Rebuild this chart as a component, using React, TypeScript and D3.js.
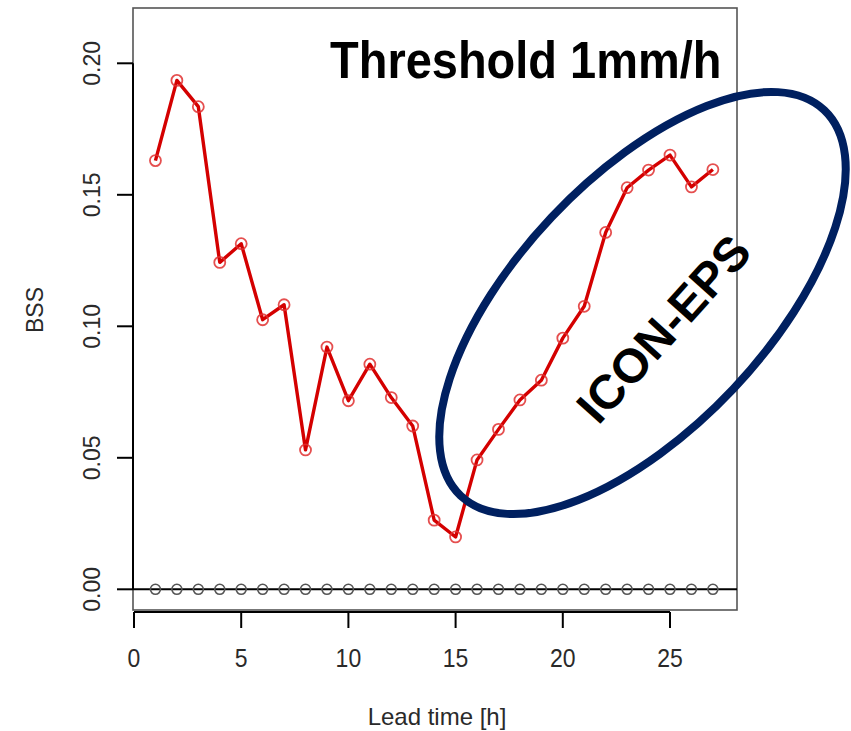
import React from "react";
import * as d3 from "d3";

const leadTimes = [1,2,3,4,5,6,7,8,9,10,11,12,13,14,15,16,17,18,19,20,21,22,23,24,25,26,27];
const bssIcon = [0.163,0.1935,0.1835,0.1243,0.1314,0.1025,0.1082,0.053,0.0921,0.0717,0.0856,0.0729,0.0621,0.0263,0.0199,0.0492,0.0608,0.072,0.0795,0.0955,0.1076,0.1357,0.1527,0.1594,0.1651,0.153,0.1596];
const bssRef = leadTimes.map(() => 0);
const xTicks = [0,5,10,15,20,25];
const yTicks = [0,0.05,0.1,0.15,0.2];
const yTickLabels = ["0.00","0.05","0.10","0.15","0.20"];
const title = "Threshold 1mm/h";
const annotation = "ICON-EPS";
const xLabel = "Lead time [h]";
const yLabel = "BSS";

export default function App() {
  const W = 851, H = 731;
  const box = { left: 133, top: 8, right: 737, bottom: 610 };
  const x = d3.scaleLinear().domain([0, 25]).range([134, 670]);
  const y = d3.scaleLinear().domain([0, 0.2]).range([589.3, 63.3]);
  const line = d3.line<number>().x((_, i) => x(leadTimes[i])).y(d => y(d));
  const font = "'Liberation Sans', Arial, Helvetica, sans-serif";
  return (
    <svg width={W} height={H} style={{ position: "absolute", left: 0, top: 0, background: "#fff" }} fontFamily={font}>
      <rect x={0} y={0} width={W} height={H} fill="#fff" />
      {/* box */}
      <rect x={box.left} y={box.top} width={box.right - box.left} height={box.bottom - box.top} fill="none" stroke="#555" strokeWidth={1.6} />
      {/* y axis */}
      <line x1={box.left} x2={box.left} y1={y(0.2)} y2={y(0)} stroke="#000" strokeWidth={2} />
      {yTicks.map((t, i) => (
        <g key={"yt" + i}>
          <line x1={117} x2={box.left} y1={y(t)} y2={y(t)} stroke="#000" strokeWidth={2} />
          <text transform={`translate(100,${y(t)}) rotate(-90)`} textAnchor="middle" fontSize={23} fill="#2a2a2a">{yTickLabels[i]}</text>
        </g>
      ))}
      {/* x axis */}
      <line x1={x(0)} x2={x(25)} y1={612} y2={612} stroke="#000" strokeWidth={2} />
      {xTicks.map((t, i) => (
        <g key={"xt" + i}>
          <line x1={x(t)} x2={x(t)} y1={612} y2={628} stroke="#000" strokeWidth={2} />
          <text transform={`translate(${x(t)},667) scale(1,1.1)`} textAnchor="middle" fontSize={23} fill="#2a2a2a">{String(t)}</text>
        </g>
      ))}
      <text x={437} y={725} textAnchor="middle" fontSize={24} fill="#2a2a2a">{xLabel}</text>
      <text transform={`translate(43,310) rotate(-90)`} textAnchor="middle" fontSize={23} fill="#2a2a2a">{yLabel}</text>
      {/* reference line at zero */}
      <line x1={box.left} x2={box.right} y1={y(0)} y2={y(0)} stroke="#000" strokeWidth={2} />
      {bssRef.map((v, i) => (
        <circle key={"r" + i} cx={x(leadTimes[i])} cy={y(v)} r={5} fill="none" stroke="#555" strokeWidth={1.6} />
      ))}
      {/* ICON-EPS line */}
      <path d={line(bssIcon) || ""} fill="none" stroke="#d40000" strokeWidth={3.4} strokeLinejoin="round" />
      {bssIcon.map((v, i) => (
        <circle key={"p" + i} cx={x(leadTimes[i])} cy={y(v)} r={5.5} fill="none" stroke="#e03030" strokeWidth={1.8} opacity={0.85} />
      ))}
      {/* title */}
      <text transform="translate(330,78) scale(1,1.12)" fontSize={47} fontWeight="bold" fill="#000">{title}</text>
      {/* ellipse annotation */}
      <ellipse cx={642.5} cy={303} rx={265} ry={125} transform="rotate(-46.7 642.5 303)" fill="none" stroke="#002060" strokeWidth={8} />
      <text transform="translate(676,340) rotate(-48)" textAnchor="middle" fontSize={48} fontWeight="bold" fill="#000">{annotation}</text>
    </svg>
  );
}
